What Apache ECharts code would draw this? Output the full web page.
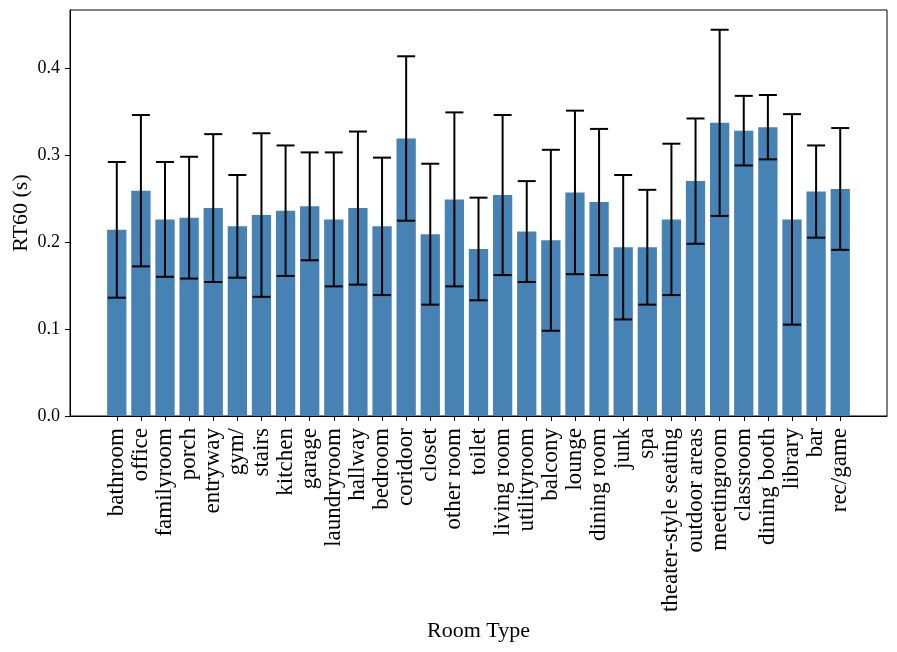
<!DOCTYPE html>
<html>
<head>
<meta charset="utf-8">
<script src="https://cdn.jsdelivr.net/npm/echarts@6/dist/echarts.min.js"></script>
<style>
html,body{margin:0;padding:0;background:#fff;}
#chart{width:897px;height:652px;}
</style>
</head>
<body>
<div id="chart"></div>
<script>
const categories = ["bathroom","office","familyroom","porch","entryway","gym/","stairs","kitchen","garage","laundryroom","hallway","bedroom","coridoor","closet","other room","toilet","living room","utilityroom","balcony","lounge","dining room","junk","spa","theater-style seating","outdoor areas","meetingroom","classroom","dining booth","library","bar","rec/game"];
const rt60Mean = [0.214,0.259,0.226,0.228,0.239,0.218,0.231,0.236,0.241,0.226,0.239,0.218,0.319,0.209,0.249,0.192,0.254,0.212,0.202,0.257,0.246,0.194,0.194,0.226,0.270,0.337,0.328,0.332,0.226,0.258,0.261];
const rt60Std = [0.078,0.087,0.066,0.070,0.085,0.059,0.094,0.075,0.062,0.077,0.088,0.079,0.0945,0.081,0.100,0.059,0.092,0.058,0.104,0.094,0.084,0.083,0.066,0.087,0.072,0.107,0.040,0.037,0.121,0.053,0.070];
const yTicks = [0, 0.1, 0.2, 0.3, 0.4];

const font = "'Liberation Serif', 'Times New Roman', serif";
const idx = categories.map((_, i) => i);
const barData = categories.map((c, i) => [i, rt60Mean[i]]);
const errData = categories.map((c, i) => [i, rt60Mean[i] - rt60Std[i], rt60Mean[i] + rt60Std[i]]);

const chart = echarts.init(document.getElementById('chart'), null, {renderer: 'canvas'});
chart.setOption({
  animation: false,
  backgroundColor: '#fff',
  grid: {left: 70, right: 10, top: 10, bottom: 236, containLabel: false, outerBoundsMode: 'none',
    show: true, borderColor: '#000', borderWidth: 1, backgroundColor: 'transparent'},
  xAxis: {
    type: 'value',
    min: -1.94, max: 31.94,
    splitLine: {show: false},
    axisLine: {show: true, onZero: false, lineStyle: {color: '#000', width: 1}},
    axisTick: {show: true, customValues: idx, length: 5, inside: false, lineStyle: {color: '#000', width: 1}},
    axisLabel: {show: true, customValues: idx, rotate: 90, margin: 12, fontFamily: font, fontSize: 23, color: '#000',
      formatter: v => categories[Math.round(v)]},
    name: 'Room Type', nameLocation: 'middle', nameGap: 203,
    nameTextStyle: {fontFamily: font, fontSize: 22, color: '#000'}
  },
  yAxis: {
    type: 'value',
    min: 0, max: 0.4667, interval: 0.1,
    splitLine: {show: false},
    axisLine: {show: true, onZero: false, lineStyle: {color: '#000', width: 1}},
    axisTick: {show: true, customValues: yTicks, length: 5, inside: false, lineStyle: {color: '#000', width: 1}},
    axisLabel: {show: true, customValues: yTicks, fontFamily: font, fontSize: 18, color: '#000', margin: 10,
      formatter: v => v.toFixed(1)},
    name: 'RT60 (s)', nameLocation: 'middle', nameGap: 38, nameRotate: 90, nameMoveOverlap: false,
    nameTextStyle: {fontFamily: font, fontSize: 22, color: '#000'}
  },
  series: [
    {
      type: 'custom',
      data: barData,
      renderItem: function (params, api) {
        const x = api.value(0), y = api.value(1);
        const p0 = api.coord([x - 0.4, 0]);
        const p1 = api.coord([x + 0.4, y]);
        return {type: 'rect', shape: {x: p0[0], y: p1[1], width: p1[0] - p0[0], height: p0[1] - p1[1]},
          style: {fill: '#4682B4'}};
      }
    },
    {
      type: 'custom',
      data: errData,
      z: 5,
      renderItem: function (params, api) {
        const x = api.value(0);
        const lo = api.coord([x, api.value(1)]);
        const hi = api.coord([x, api.value(2)]);
        const cap = 9;
        const st = {stroke: '#000', lineWidth: 2};
        return {type: 'group', children: [
          {type: 'line', shape: {x1: lo[0], y1: lo[1], x2: hi[0], y2: hi[1]}, style: st},
          {type: 'line', shape: {x1: lo[0] - cap, y1: lo[1], x2: lo[0] + cap, y2: lo[1]}, style: st},
          {type: 'line', shape: {x1: hi[0] - cap, y1: hi[1], x2: hi[0] + cap, y2: hi[1]}, style: st}
        ]};
      }
    }
  ]
});
</script>
</body>
</html>
